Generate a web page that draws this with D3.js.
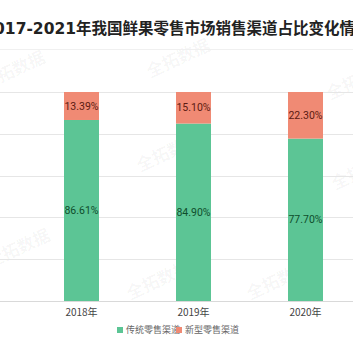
<!DOCTYPE html>
<html>
<head>
<meta charset="utf-8">
<script src="https://cdn.jsdelivr.net/npm/d3@7"></script>
<style>
  body { margin: 0; background: #fff; }
  svg { display: block; font-family: "Noto Sans CJK SC", "Noto Sans", sans-serif; }
</style>
</head>
<body>
<div id="chart"></div>
<script>
// datos (solo los años visibles)
const years = ["2018年", "2019年", "2020年"];
const traditional = [86.61, 84.90, 77.70];
const newRetail = [13.39, 15.10, 22.30];
const seriesNames = ["传统零售渠道", "新型零售渠道"];
const yTicks = [0, 20, 40, 60, 80, 100];
const titleText = "2017-2021年我国鲜果零售市场销售渠道占比变化情况";
const watermark = "全拓数据";

const width = 353;
const height = 353;
const colors = ["#5cc595", "#f08a74"];
const labelColors = ["#0f4d2c", "#5c1a12"];
const titleFont = "'DejaVu Sans', 'Noto Sans CJK SC', sans-serif";

const svg = d3.select("#chart")
    .append("svg")
    .attr("width", width)
    .attr("height", height);

// marcas de agua
const wm = [[150, 78], [140, 172], [-15, 90], [-10, 268], [250, 300], [130, 300], [330, 100], [335, 190]];
svg.append("g")
    .selectAll("text")
    .data(wm)
    .enter()
    .append("text")
    .attr("transform", d => `translate(${d[0]},${d[1]}) rotate(-25)`)
    .attr("font-size", 17)
    .attr("font-weight", "bold")
    .attr("fill", "#000")
    .attr("fill-opacity", 0.04)
    .text(watermark);

// título (más ancho que la imagen, se corta en los bordes)
const title = svg.append("text")
    .attr("y", 34)
    .attr("font-size", 15.5)
    .attr("font-weight", "bold")
    .attr("font-family", titleFont)
    .attr("fill", "#222")
    .text(titleText);
const tmp = svg.append("text")
    .attr("font-size", 15.5)
    .attr("font-weight", "bold")
    .attr("font-family", titleFont)
    .text("2017-2021");
const prefixW = tmp.node().getComputedTextLength();
tmp.remove();
title.attr("x", 76 - prefixW);

// línea fina bajo el título
svg.append("line")
    .attr("x1", 0).attr("x2", width)
    .attr("y1", 49.5).attr("y2", 49.5)
    .attr("stroke", "#f0f0f0");

const x = d3.scaleBand()
    .domain(years)
    .range([25.5, 361.5])
    .paddingInner(0.6875)
    .paddingOuter(0.34375);

const y = d3.scaleLinear()
    .domain([0, 100])
    .range([301, 92]);

// líneas de cuadrícula
svg.append("g")
    .selectAll("line")
    .data(yTicks)
    .enter()
    .append("line")
    .attr("x1", 0)
    .attr("x2", width)
    .attr("y1", d => Math.round(y(d)) + 0.5)
    .attr("y2", d => Math.round(y(d)) + 0.5)
    .attr("stroke", d => d === 0 ? "#d9d9d9" : "#e6e6e6");

// apilar
const rows = years.map((yr, i) => ({ year: yr, a: traditional[i], b: newRetail[i] }));
const stack = d3.stack().keys(["a", "b"]);
const stacked = stack(rows);

const groups = svg.append("g")
    .selectAll("g")
    .data(stacked)
    .enter()
    .append("g")
    .attr("fill", (d, i) => colors[i]);

groups.selectAll("rect")
    .data(d => d)
    .enter()
    .append("rect")
    .attr("x", d => x(d.data.year))
    .attr("width", x.bandwidth())
    .attr("y", d => y(d[1]))
    .attr("height", d => y(d[0]) - y(d[1]));

// etiquetas de valores
stacked.forEach((s, si) => {
    svg.append("g")
        .selectAll("text")
        .data(s)
        .enter()
        .append("text")
        .attr("x", d => x(d.data.year) + x.bandwidth() / 2)
        .attr("y", d => (y(d[0]) + y(d[1])) / 2)
        .attr("dy", "0.35em")
        .attr("text-anchor", "middle")
        .attr("font-size", 10.5)
        .attr("font-family", "Roboto, 'Noto Sans', sans-serif")
        .attr("fill", labelColors[si])
        .text(d => (d[1] - d[0]).toFixed(2) + "%");
});

// eje x
svg.append("g")
    .selectAll("text")
    .data(years)
    .enter()
    .append("text")
    .attr("x", d => x(d) + x.bandwidth() / 2)
    .attr("y", 312)
    .attr("dy", "0.35em")
    .attr("text-anchor", "middle")
    .attr("font-size", 10)
    .attr("fill", "#444")
    .text(d => d);

// leyenda
const legend = svg.append("g").attr("transform", "translate(117,330)");
const lx = [0, 59];
seriesNames.forEach((name, i) => {
    legend.append("rect")
        .attr("x", lx[i])
        .attr("y", -3)
        .attr("width", 6)
        .attr("height", 6)
        .attr("fill", colors[i]);
    legend.append("text")
        .attr("x", lx[i] + 9)
        .attr("y", 0)
        .attr("dy", "0.35em")
        .attr("font-size", 9)
        .attr("fill", "#666")
        .text(name);
});
</script>
</body>
</html>
